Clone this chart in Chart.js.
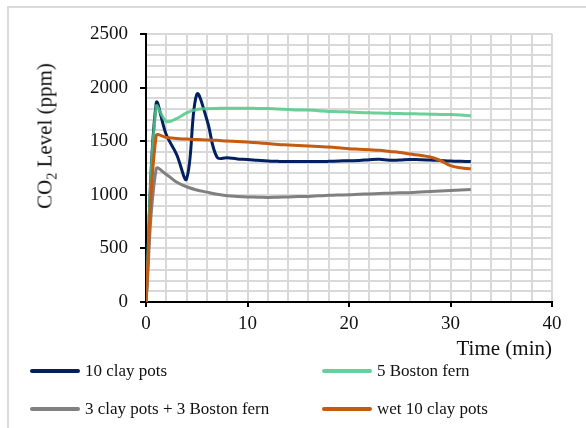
<!DOCTYPE html>
<html lang="en">
<head>
    <meta charset="UTF-8">
    <title>CO2 Level</title>
    <style>
        body {
            margin: 0;
            background: #fff;
            font-family: "Liberation Serif", "Times New Roman", serif;
            color: #111;
        }
        .frame {
            position: absolute;
            left: 7px;
            top: 6px;
            width: 620px;
            height: 460px;
            border: 2px solid #d9d9d9;
        }
        .wrap {
            position: absolute;
            left: 0;
            top: 0;
            width: 586px;
            height: 428px;
            overflow: hidden;
        }
        canvas {
            position: absolute;
            left: 0;
            top: 0;
        }
        .ytitle {
            position: absolute;
            left: 45px;
            top: 136px;
            transform: translate(-50%, -50%) rotate(-90deg);
            white-space: nowrap;
            font-size: 21px;
            line-height: 21px;
        }
        .ytitle sub {
            font-size: 14px;
            line-height: 0;
        }
        .legend-item {
            position: absolute;
            height: 20px;
            font-size: 17px;
            line-height: 20px;
            white-space: nowrap;
        }
        .legend-item span.swatch {
            display: inline-block;
            width: 50px;
            height: 4px;
            border-radius: 2px;
            vertical-align: middle;
            margin-right: 5px;
            position: relative;
            top: -1px;
        }
    </style>
    <script src="https://cdn.jsdelivr.net/npm/chart.js@4.4.1/dist/chart.umd.min.js"></script>
</head>
<body>
    <div class="wrap">
        <div class="frame"></div>
        <canvas id="co2Chart" width="586" height="428"></canvas>
        <div class="ytitle">CO<sub>2</sub> Level (ppm)</div>
        <div id="legend"></div>
    </div>

    <script>
        // time in minutes
        const minutes = [0, 1, 2, 3, 4, 5, 6, 7, 8, 9, 10, 11, 12, 13, 14, 15, 16,
                         17, 18, 19, 20, 21, 22, 23, 24, 25, 26, 27, 28, 29, 30, 31, 32];

        // CO2 readings (ppm)
        const clayPots10 = [0, 1850, 1560, 1380, 1150, 1935, 1700, 1350, 1345, 1335, 1330, 1322, 1315,
                            1312, 1310, 1310, 1310, 1310, 1312, 1315, 1318, 1320, 1328, 1332, 1322,
                            1325, 1330, 1328, 1325, 1320, 1315, 1312, 1310];
        const bostonFern5 = [0, 1820, 1685, 1710, 1765, 1795, 1803, 1806, 1808, 1808, 1808, 1806, 1805,
                             1800, 1796, 1792, 1790, 1785, 1778, 1775, 1772, 1768, 1765, 1762, 1760,
                             1758, 1756, 1754, 1752, 1750, 1748, 1744, 1738];
        const mixed3and3 = [0, 1240, 1190, 1120, 1075, 1045, 1025, 1005, 992, 985, 980, 978, 975,
                            977, 980, 983, 985, 990, 995, 998, 1000, 1005, 1008, 1012, 1015,
                            1018, 1020, 1025, 1030, 1035, 1040, 1045, 1050];
        const wetClayPots10 = [0, 1550, 1535, 1525, 1520, 1515, 1512, 1508, 1502, 1498, 1492, 1485, 1478,
                               1470, 1465, 1460, 1455, 1450, 1445, 1438, 1430, 1425, 1420, 1415, 1405,
                               1395, 1380, 1368, 1352, 1320, 1272, 1252, 1242];

        const seriesNames = ['10 clay pots', '5 Boston fern', '3 clay pots + 3 Boston fern', 'wet 10 clay pots'];
        const seriesValues = [clayPots10, bostonFern5, mixed3and3, wetClayPots10];
        const seriesColors = ['#002060', 'rgba(82, 200, 135, 0.85)', '#808080', '#c55a11'];
        const legendColors = ['#002060', '#66d09c', '#808080', '#c55a11'];
        const drawOrder = [4, 3, 2, 1];

        const fontFamily = '"Liberation Serif", "Times New Roman", serif';

        const datasets = seriesValues.map((vals, i) => ({
            label: seriesNames[i],
            data: vals.map((v, j) => ({ x: minutes[j], y: v })),
            borderColor: seriesColors[i],
            backgroundColor: seriesColors[i],
            borderWidth: 3,
            pointRadius: 0,
            tension: 0.4,
            fill: false,
            order: drawOrder[i]
        }));

        const ctx = document.getElementById('co2Chart').getContext('2d');
        const co2Chart = new Chart(ctx, {
            type: 'line',
            data: { datasets: datasets },
            options: {
                responsive: false,
                animation: false,
                events: [],
                layout: {
                    padding: { top: 34, right: 34, bottom: 66, left: 0 }
                },
                plugins: {
                    legend: { display: false },
                    tooltip: { enabled: false }
                },
                scales: {
                    x: {
                        type: 'linear',
                        min: 0,
                        max: 40,
                        afterFit: scale => { scale.height = 60; },
                        ticks: {
                            stepSize: 2,
                            autoSkip: false,
                            maxRotation: 0,
                            padding: 6,
                            color: '#111',
                            font: { family: fontFamily, size: 19 },
                            callback: v => (v % 10 === 0 ? v : '')
                        },
                        grid: {
                            color: '#d9d9d9',
                            lineWidth: 2,
                            tickLength: 5,
                            tickColor: c => (c.tick && c.tick.value % 10 === 0 ? '#000' : 'rgba(0,0,0,0)')
                        },
                        border: { color: '#000', width: 2 },
                        title: {
                            display: true,
                            text: 'Time (min)',
                            align: 'end',
                            color: '#111',
                            font: { family: fontFamily, size: 21 },
                            padding: { top: 0, bottom: 0 }
                        }
                    },
                    y: {
                        min: 0,
                        max: 2500,
                        afterFit: scale => { scale.width = 146; },
                        ticks: {
                            stepSize: 100,
                            autoSkip: false,
                            padding: 12,
                            color: '#111',
                            font: { family: fontFamily, size: 19 },
                            callback: v => (v % 500 === 0 ? v : '')
                        },
                        grid: {
                            color: '#d9d9d9',
                            lineWidth: 2,
                            tickLength: 6,
                            tickColor: c => (c.tick && c.tick.value % 500 === 0 ? '#000' : 'rgba(0,0,0,0)')
                        },
                        border: { color: '#000', width: 2 }
                    }
                }
            }
        });

        // legend in two columns, like the original
        const legendPos = [[30, 361], [322, 361], [30, 399], [322, 399]];
        const legend = document.getElementById('legend');
        seriesNames.forEach((name, i) => {
            const item = document.createElement('div');
            item.className = 'legend-item';
            item.style.left = legendPos[i][0] + 'px';
            item.style.top = legendPos[i][1] + 'px';
            const sw = document.createElement('span');
            sw.className = 'swatch';
            sw.style.background = legendColors[i];
            item.appendChild(sw);
            item.appendChild(document.createTextNode(name));
            legend.appendChild(item);
        });
    </script>
</body>
</html>
